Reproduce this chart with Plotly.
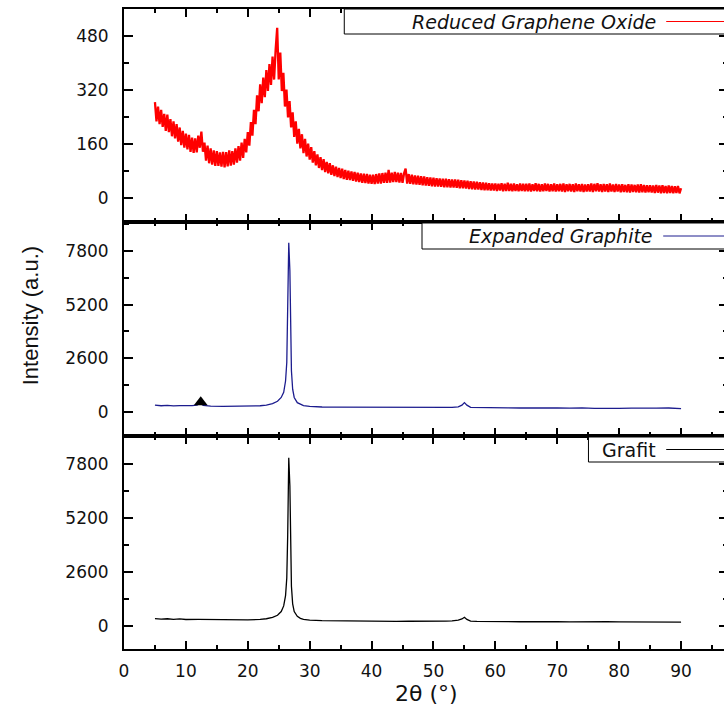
import plotly.graph_objects as go
from plotly.subplots import make_subplots

# ---------------- data ----------------
rgo_start = 5.0
rgo_step = 0.25
rgo_y = [
    285, 228, 272, 220, 262, 212, 250, 200, 248, 196, 235, 184, 228, 178, 220, 168, 210, 158, 200, 150,
    192, 145, 188, 138, 180, 135, 178, 136, 186, 150, 198, 138, 165, 112, 156, 104, 148, 100, 142, 96,
    140, 96, 136, 94, 138, 92, 137, 95, 142, 97, 140, 100, 148, 106, 155, 112, 165, 120, 176, 136,
    196, 156, 226, 186, 262, 220, 305, 258, 338, 282, 358, 300, 380, 318, 398, 336, 420, 352, 440, 505,
    352, 432, 318, 372, 272, 322, 240, 288, 210, 255, 182, 228, 162, 206, 148, 190, 134, 176, 124, 162,
    115, 152, 106, 140, 98, 130, 90, 122, 84, 116, 78, 108, 74, 104, 70, 98, 66, 94, 63, 90,
    60, 88, 57, 84, 55, 82, 54, 80, 52, 78, 50, 76, 48, 74, 46, 73, 45, 72, 44, 70,
    43, 70, 42, 72, 44, 74, 44, 75, 46, 76, 46, 84, 47, 76, 48, 78, 48, 76, 47, 75,
    46, 74, 88, 44, 72, 43, 70, 42, 68, 41, 67, 40, 66, 39, 65, 38, 63, 37, 62, 36,
    61, 35, 60, 35, 59, 34, 58, 33, 58, 33, 57, 32, 56, 32, 56, 31, 55, 30, 54, 30,
    53, 29, 52, 28, 51, 27, 50, 26, 49, 26, 48, 25, 47, 24, 46, 24, 45, 23, 44, 23,
    44, 22, 43, 23, 45, 21, 43, 22, 46, 22, 43, 21, 44, 22, 42, 21, 44, 22, 43, 21,
    43, 21, 44, 20, 42, 22, 45, 21, 43, 20, 42, 21, 44, 22, 43, 20, 42, 21, 44, 20,
    42, 21, 43, 20, 44, 19, 42, 21, 43, 20, 42, 19, 44, 21, 42, 20, 43, 19, 41, 20,
    42, 20, 44, 19, 43, 21, 45, 20, 42, 19, 43, 20, 42, 19, 44, 20, 41, 19, 43, 20,
    41, 18, 42, 19, 40, 18, 42, 17, 41, 19, 40, 18, 41, 17, 42, 18, 40, 17, 39, 18,
    39, 17, 38, 16, 40, 17, 38, 15, 39, 16, 37, 15, 38, 16, 37, 15, 36, 16, 37, 15,
    30,
]
rgo_x = [rgo_start + rgo_step * i for i in range(len(rgo_y))]

eg_x = [5, 6, 7, 8, 9, 10, 11, 11.8, 12.3, 12.8, 14, 16, 18, 20, 22, 23, 24,
        24.8, 25.4, 25.8, 26.1, 26.3, 26.45, 26.62, 26.8, 26.9, 27.05, 27.25, 27.5,
        28, 28.5, 29, 30, 31, 32, 34, 36, 38, 40, 42, 44, 46, 48, 50, 52,
        53, 54, 54.6, 55.0, 55.4, 56, 57, 58,
        60, 62, 64, 66, 68, 70, 72, 74, 76, 78, 80, 82, 84, 86, 88, 90]
eg_y = [330, 300, 320, 295, 310, 290, 305, 330, 420, 320, 285, 270, 280, 270, 300, 330, 400,
        520, 700, 950, 1500, 2400, 4500, 8200, 6850, 4400, 2000, 1100, 700,
        450, 360, 310, 270, 250, 240, 230, 225, 220, 215, 220, 210, 215, 205, 200, 210,
        220, 250, 330, 450, 330, 220, 210, 200,
        205, 195, 190, 200, 185, 190, 180, 195, 170, 190, 175, 185, 170, 180, 190, 160]

gr_x = [5, 6, 7, 8, 9, 10, 12, 14, 16, 18, 20, 22, 23, 24,
        24.8, 25.4, 25.8, 26.1, 26.3, 26.45, 26.62, 26.8, 26.9, 27.05, 27.25, 27.5,
        28, 28.5, 29, 30, 32, 34, 36, 38, 40, 42, 44, 46, 48, 50, 52,
        53, 54, 54.6, 55.0, 55.4, 56, 57, 58,
        60, 62, 64, 66, 68, 70, 72, 74, 76, 78, 80, 82, 84, 86, 88, 90]
gr_y = [340, 310, 330, 300, 320, 295, 300, 285, 280, 275, 275, 300, 330, 400,
        500, 680, 950, 1450, 2300, 4400, 8100, 6750, 4300, 1900, 1050, 680,
        450, 350, 300, 260, 240, 230, 225, 215, 210, 215, 205, 210, 200, 205, 215,
        230, 260, 320, 400, 300, 215, 205, 195,
        200, 190, 185, 195, 180, 185, 175, 190, 170, 185, 175, 180, 170, 175, 180, 165]

marker_x = [12.4]
marker_y = [470]

series_names = ["Reduced Graphene Oxide", "Expanded Graphite", "Grafit"]
x_ticks = [0, 10, 20, 30, 40, 50, 60, 70, 80, 90]
rgo_ticks = [0, 160, 320, 480]
gr_ticks = [0, 2600, 5200, 7800]

RED = "#ff0000"
NAVY = "#1c1c8e"
BLACK = "#000000"

fig = make_subplots(rows=3, cols=1, shared_xaxes=True, vertical_spacing=0)

fig.add_trace(go.Scatter(x=rgo_x, y=rgo_y, mode="lines",
                         line=dict(color=RED, width=2.3), showlegend=False), row=1, col=1)
fig.add_trace(go.Scatter(x=eg_x, y=eg_y, mode="lines",
                         line=dict(color=NAVY, width=1.3), showlegend=False), row=2, col=1)
fig.add_trace(go.Scatter(x=marker_x, y=marker_y, mode="markers",
                         marker=dict(symbol="triangle-up", size=12, color=BLACK),
                         showlegend=False), row=2, col=1)
fig.add_trace(go.Scatter(x=gr_x, y=gr_y, mode="lines",
                         line=dict(color=BLACK, width=1.3), showlegend=False), row=3, col=1)

tickfont = dict(family="DejaVu Sans", size=17, color="#111")

# figure is a little wider than the window so the right frame line falls just outside it
FIG_W = 730
W, H, L, T = float(FIG_W - 124), 640.0, 124.0, 9.0
x_max = W / 6.21

fig.update_xaxes(range=[0, x_max], tickmode="array", tickvals=x_ticks,
                 ticks="inside", ticklen=8, tickwidth=2, tickcolor=BLACK,
                 showline=True, linewidth=2, linecolor=BLACK, mirror="ticks",
                 showgrid=False, zeroline=False,
                 minor=dict(dtick=5, tick0=0, ticks="inside", ticklen=4, tickwidth=2, tickcolor=BLACK),
                 tickfont=tickfont)
fig.update_xaxes(showticklabels=True, ticklabelstandoff=6, row=3, col=1)

fig.update_yaxes(ticks="inside", ticklen=9, tickwidth=2, tickcolor=BLACK,
                 showline=True, linewidth=2, linecolor=BLACK, mirror="ticks",
                 showgrid=False, zeroline=False, tickfont=tickfont,
                 ticklabelstandoff=10)
fig.update_yaxes(range=[-71, 561], tickmode="array", tickvals=rgo_ticks,
                 minor=dict(dtick=80, tick0=0, ticks="inside", ticklen=5, tickwidth=2, tickcolor=BLACK),
                 row=1, col=1)
fig.update_yaxes(range=[-1150, 9190], tickmode="array", tickvals=gr_ticks,
                 minor=dict(dtick=1300, tick0=0, ticks="inside", ticklen=5, tickwidth=2, tickcolor=BLACK),
                 row=2, col=1)
fig.update_yaxes(range=[-1130, 9170], tickmode="array", tickvals=gr_ticks,
                 minor=dict(dtick=1300, tick0=0, ticks="inside", ticklen=5, tickwidth=2, tickcolor=BLACK),
                 row=3, col=1)

def px(xp):
    return (xp - L) / W
def py(yp):
    return (T + H - yp) / H

legend_specs = [
    # name, box_left, box_top, box_bottom, text_right, colour, italic
    (series_names[0], 345, 9, 34, 660, RED, True),
    (series_names[1], 423, 223, 249, 657, NAVY, True),
    (series_names[2], 590, 437, 462, 660, BLACK, False),
]
shapes = []
annotations = []
for name, bl, bt, bb, tr, col, ital in legend_specs:
    shapes.append(dict(type="rect", xref="paper", yref="paper",
                       x0=px(bl), x1=px(740), y0=py(bb), y1=py(bt),
                       line=dict(color=BLACK, width=1), fillcolor="white", layer="above"))
    yc = py((bt + bb) / 2)
    shapes.append(dict(type="line", xref="paper", yref="paper",
                       x0=px(tr + 8), x1=px(740), y0=yc, y1=yc,
                       line=dict(color=col, width=1), layer="above"))
    annotations.append(dict(xref="paper", yref="paper", x=px(tr), y=yc,
                            xanchor="right", yanchor="middle", showarrow=False,
                            text=("<i>%s</i>" % name) if ital else name,
                            font=dict(family="DejaVu Sans", size=19, color="#111")))

annotations.append(dict(xref="paper", yref="paper", x=px(30), y=py(316),
                        xanchor="center", yanchor="middle", showarrow=False,
                        textangle=-90, text="Intensity (a.u.)",
                        font=dict(family="Liberation Sans Narrow, Liberation Sans", size=22, color="#111")))
annotations.append(dict(xref="paper", yref="paper", x=px(427), y=py(693),
                        xanchor="center", yanchor="middle", showarrow=False,
                        text="2\u03b8 (\u00b0)",
                        font=dict(family="DejaVu Sans", size=22, color="#111")))

fig.update_layout(width=FIG_W, height=711,
                  margin=dict(l=124, r=0, t=9, b=62),
                  plot_bgcolor="white", paper_bgcolor="white",
                  shapes=shapes, annotations=annotations, showlegend=False)

fig.write_html("out.html", config={"displayModeBar": False, "staticPlot": True},
               post_script="document.body.style.margin='0';document.body.style.overflow='hidden';")
